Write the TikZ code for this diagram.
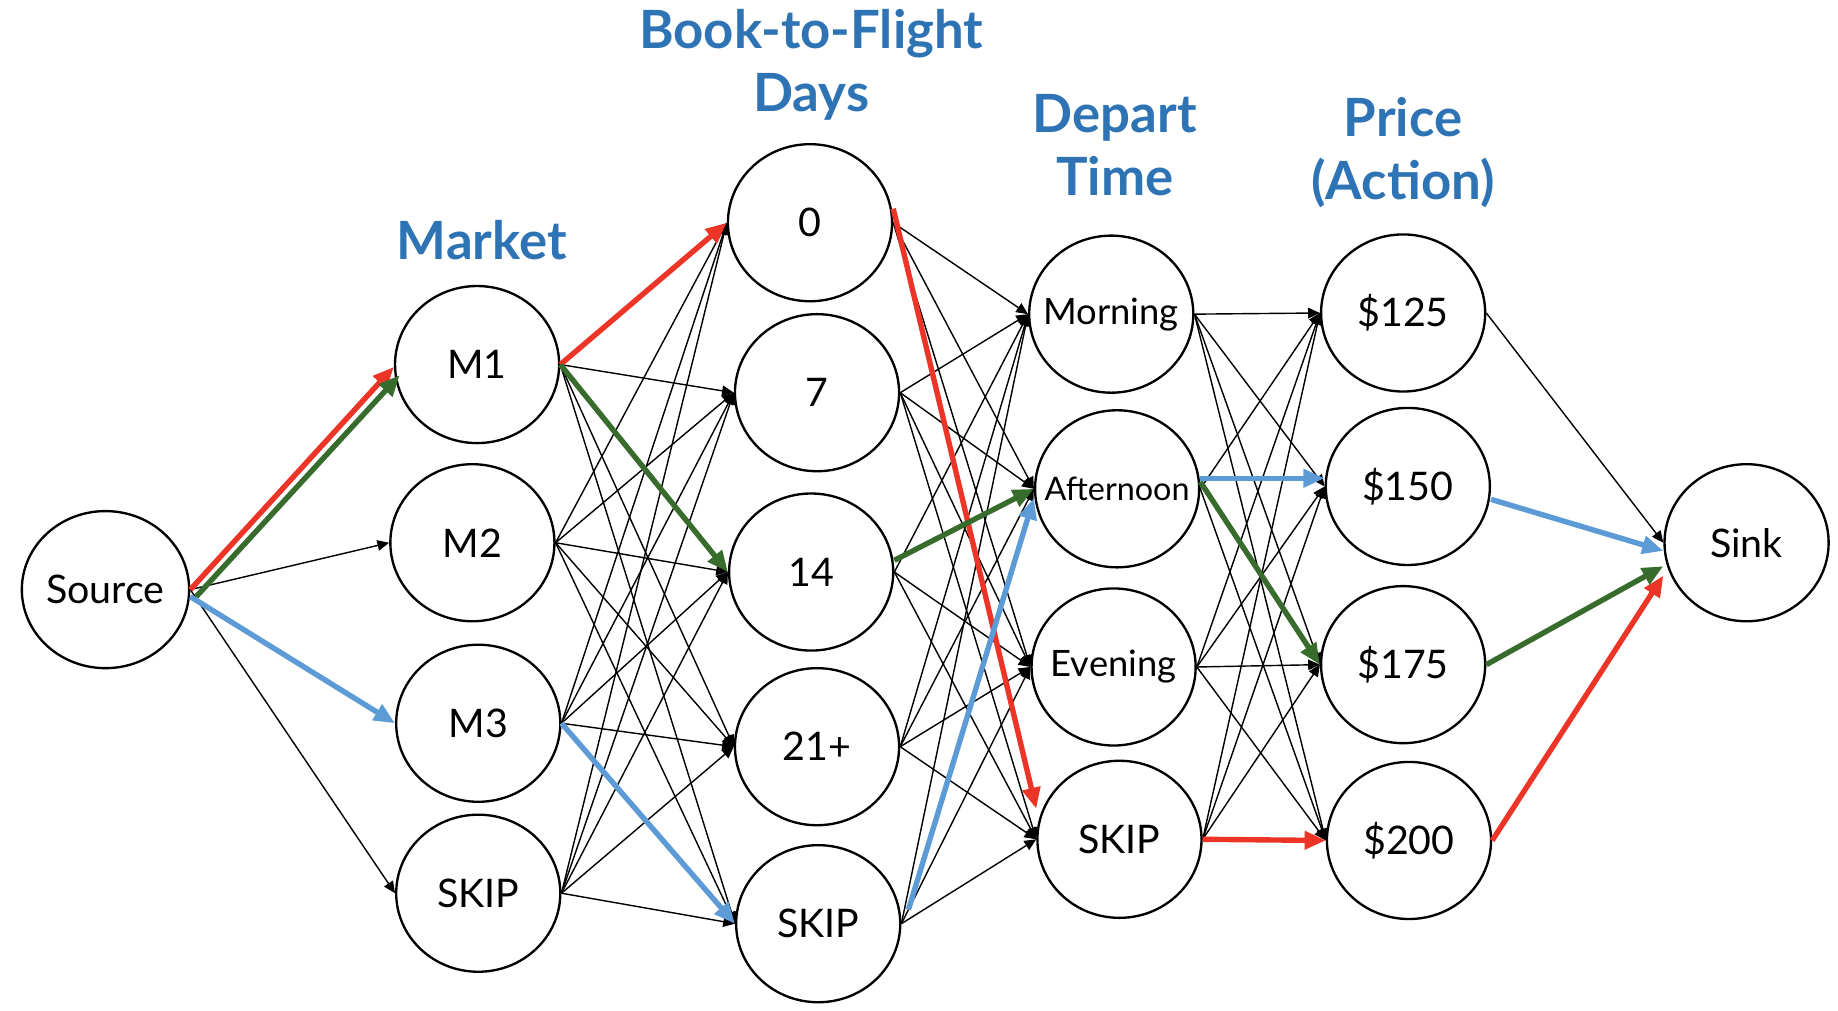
\documentclass[tikz,border=0pt]{standalone}
\usepackage{fontspec}
\setmainfont{Lato}
\usetikzlibrary{arrows.meta,shapes.geometric}

\definecolor{hdrblue}{HTML}{2E74B5}
\definecolor{pathred}{HTML}{EC3526}
\definecolor{pathgreen}{HTML}{386C2D}
\definecolor{pathblue}{HTML}{5D9BD6}

\newcommand{\fitname}[1]{\makebox[0pt][c]{#1}}

\begin{document}
\begin{tikzpicture}[x=0.5pt,y=-0.5pt,>={Triangle[length=5pt,width=4.5pt]}]
  \tikzstyle{vertex}=[ellipse,draw,line width=1pt,minimum width=70pt,
                      minimum height=67pt,inner sep=0pt,font=\fontsize{16.8}{20}\selectfont]
  \tikzstyle{header}=[text=hdrblue,align=center,
                      font=\bfseries\fontsize{22.5}{27}\selectfont]
  \tikzstyle{arc}=[->,line width=0.6pt]
  \tikzstyle{flow}=[-{Triangle[length=9pt,width=7.5pt]},line width=2.3pt]
  \tikzstyle{red flow}=[flow,draw=pathred]
  \tikzstyle{green flow}=[flow,draw=pathgreen]
  \tikzstyle{blue flow}=[flow,draw=pathblue]

  \useasboundingbox (0,0) rectangle (1568,862);

  % headers
  \node [header] (hmarket) at (411,205) {Market};
  \node [header] (hdays) at (692,55) {Book-to-Flight\\Days};
  \node [header] (htime) at (951,124) {Depart\\Time};
  \node [header] (hprice) at (1197,130) {Price\\(Action)};

  % nodes
  \node [vertex] (src) at (90,503) {Source};

  \node [vertex] (m1) at (407,311) {M1};
  \node [vertex] (m2) at (403,463) {M2};
  \node [vertex] (m3) at (408,617) {M3};
  \node [vertex] (ms) at (408,762) {SKIP};

  \node [vertex] (d0) at (691,190) {0};
  \node [vertex] (d7) at (697,335) {7};
  \node [vertex] (d14) at (692,488) {14};
  \node [vertex] (d21) at (697,637) {21+};
  \node [vertex] (ds) at (698,788) {SKIP};

  \node [vertex,font=\fontsize{15.5}{18}\selectfont] (morn) at (948,268) {\fitname{Morning}};
  \node [vertex,font=\fontsize{13.8}{16}\selectfont] (aft) at (953,417) {\fitname{Afternoon}};
  \node [vertex,font=\fontsize{15.5}{18}\selectfont] (eve) at (950,569) {\fitname{Evening}};
  \node [vertex] (ts) at (955,716) {SKIP};

  \node [vertex] (p125) at (1197,267) {\$125};
  \node [vertex] (p150) at (1201,415) {\$150};
  \node [vertex] (p175) at (1197,567) {\$175};
  \node [vertex] (p200) at (1202,717) {\$200};

  \node [vertex] (sink) at (1490,463) {Sink};

  % thin arcs
  \foreach \a/\b in {src/m2,src/ms,
      m1/d7,m1/d21,m1/ds,
      m2/d0,m2/d7,m2/d14,m2/d21,m2/ds,
      m3/d0,m3/d7,m3/d14,m3/d21,
      ms/d0,ms/d7,ms/d14,ms/d21,ms/ds,
      d0/morn,d0/aft,d0/eve,
      d7/morn,d7/aft,d7/eve,d7/ts,
      d14/morn,d14/eve,d14/ts,
      d21/morn,d21/aft,d21/eve,d21/ts,
      ds/morn,ds/eve,ds/ts,
      morn/p125,morn/p150,morn/p175,morn/p200,
      aft/p125,aft/p200,
      eve/p125,eve/p150,eve/p175,eve/p200,
      ts/p125,ts/p150,ts/p175,
      p125/sink}
    \draw [arc] (\a.east) -- (\b.west);

  % red path
  \draw [red flow] (src.east) -- ([yshift=-1pt]m1.west);
  \draw [red flow] (m1.east) -- (d0.west);
  \draw [red flow] ([yshift=6pt]d0.east) -- ([yshift=13pt]ts.west);
  \draw [red flow] (ts.east) -- (p200.west);
  \draw [red flow] (p200.east) -- ([yshift=-14pt]sink.west);

  % green path
  \draw [green flow] ([xshift=2.5pt,yshift=-3pt]src.east) -- ([xshift=2.5pt,yshift=-4.5pt]m1.west);
  \draw [green flow] (m1.east) -- (d14.west);
  \draw [green flow] ([yshift=5pt]d14.east) -- (aft.west);
  \draw [green flow] ([yshift=3pt]aft.east) -- (p175.west);
  \draw [green flow] (p175.east) -- ([yshift=-10pt]sink.west);

  % blue path
  \draw [blue flow] ([yshift=-3pt]src.east) -- (m3.west);
  \draw [blue flow] (m3.east) -- (ds.west);
  \draw [blue flow] ([xshift=3pt,yshift=6pt]ds.east) -- ([yshift=-4pt]aft.west);
  \draw [blue flow] ([yshift=4.5pt]aft.east) -- ([yshift=3.5pt]p150.west);
  \draw [blue flow] ([yshift=-5.5pt]p150.east) -- ([yshift=-3.5pt]sink.west);
\end{tikzpicture}
\end{document}
